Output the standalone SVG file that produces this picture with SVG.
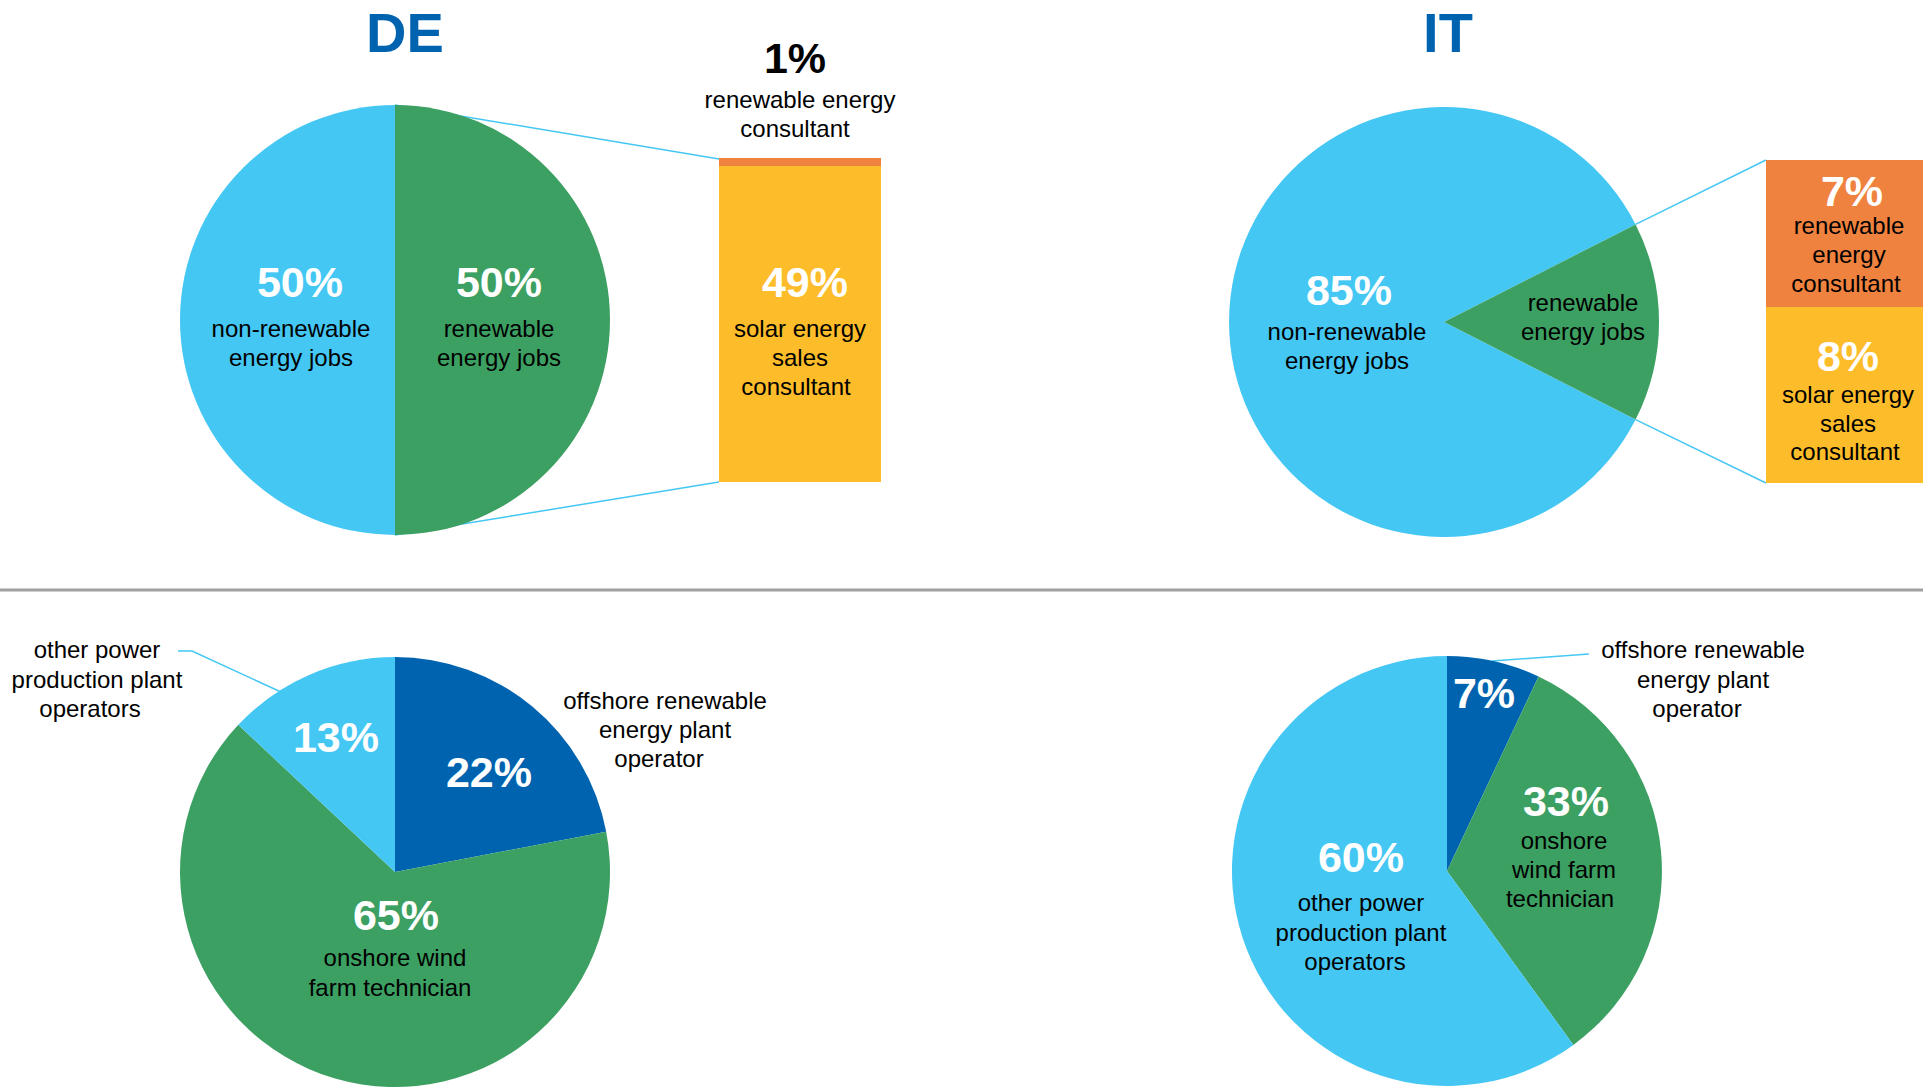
<svg xmlns="http://www.w3.org/2000/svg" width="1923" height="1087" viewBox="0 0 1923 1087">
<style>
.lb{fill:#45C7F4}
.gr{fill:#3DA063}
.db{fill:#0063B0}
.or{fill:#EF823F}
.ye{fill:#FDBC2A}
.lead{stroke:#45C7F4;stroke-width:1.5;fill:none}
text{font-family:"Liberation Sans",Arial,sans-serif;text-anchor:middle}
.t{font-size:24px;fill:#000}
.p{font-size:43px;font-weight:bold;fill:#fff}
.pk{font-size:43px;font-weight:bold;fill:#000}
.h{font-size:56px;font-weight:bold;fill:#0063B0}
</style>
<rect width="1923" height="1087" fill="#fff"/>
<text class="h" x="405" y="52">DE</text>
<text class="h" x="1448" y="52">IT</text>
<line x1="0" y1="590" x2="1923" y2="590" stroke="#A0A0A0" stroke-width="3"/>
<g id="connectors">
<line class="lead" x1="395" y1="105" x2="719" y2="159"/>
<line class="lead" x1="395" y1="535" x2="719" y2="482"/>
<line class="lead" x1="1635.6" y1="224.4" x2="1766" y2="160"/>
<line class="lead" x1="1635.6" y1="419.6" x2="1766" y2="483"/>
<polyline class="lead" points="178,651 192,651 281,692"/>
<line class="lead" x1="1589" y1="654" x2="1492" y2="661"/>
</g>
<g id="de-top-pie">
<path class="lb" d="M395,105 A215,215 0 0 0 395,535 Z"/>
<path class="gr" d="M395,105 A215,215 0 0 1 395,535 Z"/>
<text class="p" x="300" y="297">50%</text>
<text class="t" x="291" y="337">non-renewable</text>
<text class="t" x="291" y="366">energy jobs</text>
<text class="p" x="499" y="297">50%</text>
<text class="t" x="499" y="337">renewable</text>
<text class="t" x="499" y="366">energy jobs</text>
</g>
<g id="de-top-bar">
<rect class="or" x="719" y="158" width="162" height="8"/>
<rect class="ye" x="719" y="166" width="162" height="316"/>
<text class="p" x="805" y="297">49%</text>
<text class="t" x="800" y="337">solar energy</text>
<text class="t" x="800" y="366">sales</text>
<text class="t" x="796" y="395">consultant</text>
<text class="pk" x="795" y="73">1%</text>
<text class="t" x="800" y="108">renewable energy</text>
<text class="t" x="795" y="137">consultant</text>
</g>
<g id="it-top-pie">
<path class="lb" d="M1444,322 L1635.6,224.4 A215,215 0 1 0 1635.6,419.6 Z"/>
<path class="gr" d="M1444,322 L1635.6,224.4 A215,215 0 0 1 1635.6,419.6 Z"/>
<text class="p" x="1349" y="305">85%</text>
<text class="t" x="1347" y="340">non-renewable</text>
<text class="t" x="1347" y="369">energy jobs</text>
<text class="t" x="1583" y="311">renewable</text>
<text class="t" x="1583" y="340">energy jobs</text>
</g>
<g id="it-top-bar">
<rect class="or" x="1766" y="160" width="157" height="147"/>
<rect class="ye" x="1766" y="307" width="157" height="176"/>
<text class="p" x="1852" y="206">7%</text>
<text class="t" x="1849" y="234">renewable</text>
<text class="t" x="1849" y="263">energy</text>
<text class="t" x="1846" y="292">consultant</text>
<text class="p" x="1848" y="371">8%</text>
<text class="t" x="1848" y="403">solar energy</text>
<text class="t" x="1848" y="432">sales</text>
<text class="t" x="1845" y="460">consultant</text>
</g>
<g id="de-bottom-pie">
<path class="db" d="M395,872 L395,657 A215,215 0 0 1 606.2,831.7 Z"/>
<path class="gr" d="M395,872 L606.2,831.7 A215,215 0 1 1 238.3,724.8 Z"/>
<path class="lb" d="M395,872 L238.3,724.8 A215,215 0 0 1 395,657 Z"/>
<text class="p" x="336" y="752">13%</text>
<text class="p" x="489" y="787">22%</text>
<text class="p" x="396" y="930">65%</text>
<text class="t" x="395" y="966">onshore wind</text>
<text class="t" x="390" y="996">farm technician</text>
<text class="t" x="665" y="709">offshore renewable</text>
<text class="t" x="665" y="738">energy plant</text>
<text class="t" x="659" y="767">operator</text>
<text class="t" x="97" y="658">other power</text>
<text class="t" x="97" y="688">production plant</text>
<text class="t" x="90" y="717">operators</text>
</g>
<g id="it-bottom-pie">
<path class="db" d="M1447,871 L1447,656 A215,215 0 0 1 1538.5,676.5 Z"/>
<path class="gr" d="M1447,871 L1538.5,676.5 A215,215 0 0 1 1573.4,1044.9 Z"/>
<path class="lb" d="M1447,871 L1573.4,1044.9 A215,215 0 1 1 1447,656 Z"/>
<text class="p" x="1484" y="708">7%</text>
<text class="p" x="1566" y="816">33%</text>
<text class="t" x="1564" y="849">onshore</text>
<text class="t" x="1564" y="878">wind farm</text>
<text class="t" x="1560" y="907">technician</text>
<text class="p" x="1361" y="872">60%</text>
<text class="t" x="1361" y="911">other power</text>
<text class="t" x="1361" y="941">production plant</text>
<text class="t" x="1355" y="970">operators</text>
<text class="t" x="1703" y="658">offshore renewable</text>
<text class="t" x="1703" y="688">energy plant</text>
<text class="t" x="1697" y="717">operator</text>
</g>
</svg>
